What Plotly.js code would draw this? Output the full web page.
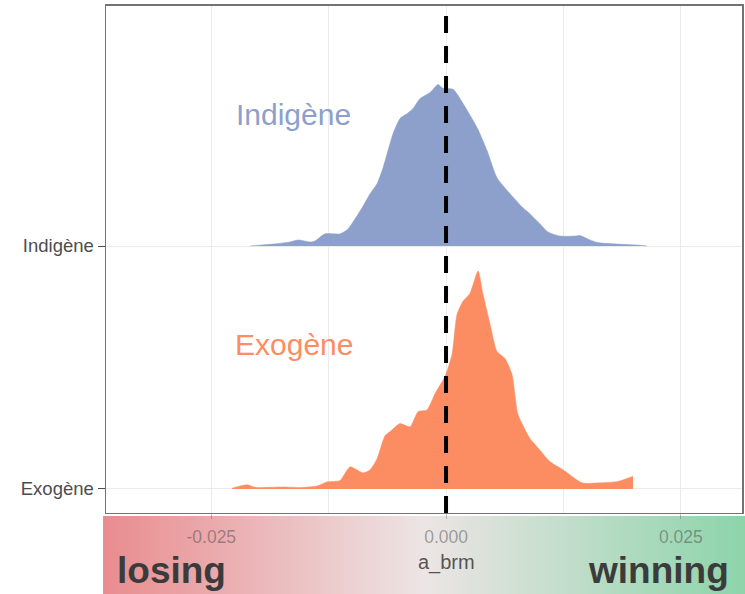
<!DOCTYPE html>
<html>
<head>
<meta charset="utf-8">
<script src="https://cdn.plot.ly/plotly-3.0.1.min.js"></script>
<style>html,body{margin:0;padding:0;background:#fff;}#chart{width:745px;height:594px;}</style>
</head>
<body>
<div id="chart"></div>
<script>
// Category positions on the ridge axis
const categories = ["Exogène", "Indigène"];
const categoryPos = [1, 2];

// Indigène density (x = a_brm, h = ridge height in category units)
const indigeneX = [-0.02087,-0.01842,-0.01661,-0.01576,-0.01448,-0.01395,-0.01289,-0.01129,-0.01044,-0.00969,
  -0.00895,-0.00809,-0.00735,-0.00671,-0.00618,-0.00564,-0.00490,-0.00415,-0.00351,-0.00277,
  -0.00170,-0.00085,-0.00032,0.00075,0.00181,0.00330,0.00437,0.00543,0.00682,0.00820,
  0.00895,0.01001,0.01086,0.01214,0.01374,0.01427,0.01534,0.01619,0.01821,0.02034,0.02141];
const indigeneH = [0,0.008,0.017,0.025,0.017,0.021,0.050,0.050,0.070,0.112,
  0.157,0.215,0.256,0.322,0.393,0.463,0.525,0.545,0.566,0.607,
  0.632,0.665,0.649,0.645,0.587,0.488,0.393,0.281,0.215,0.157,
  0.132,0.091,0.058,0.041,0.041,0.043,0.025,0.014,0.008,0.004,0];

// Exogène density
const exogeneX = [-0.02279,-0.02119,-0.02034,-0.01736,-0.01555,-0.01374,-0.01267,-0.01129,-0.01022,-0.00884,
  -0.00809,-0.00735,-0.00650,-0.00596,-0.00490,-0.00383,-0.00298,-0.00202,-0.00117,-0.00011,
  0.00064,0.00117,0.00181,0.00256,0.00341,0.00394,0.00469,0.00543,0.00628,0.00703,
  0.00767,0.00895,0.00969,0.01108,0.01246,0.01448,0.01640,0.01832,0.01991];
const exogeneH = [0.003,0.017,0.007,0.008,0.006,0.012,0.029,0.035,0.091,0.066,
  0.079,0.124,0.219,0.236,0.269,0.256,0.318,0.326,0.393,0.463,
  0.554,0.719,0.773,0.806,0.897,0.802,0.678,0.566,0.537,0.471,
  0.306,0.207,0.174,0.112,0.079,0.025,0.025,0.031,0.052];

// x-axis ticks
const xTickVals = [-0.025, 0, 0.025];
const xTickText = ["-0.025", "0.000", "0.025"];
const xTitle = "a_brm";
const refLine = 0;

// Background gradient levels (losing -> winning)
const gradientLevels = [0, 0.5, 1];

function ridge(xs, hs, base, color, name) {
  const baseline = {
    type: 'scatter', mode: 'lines', x: [xs[0], xs[xs.length - 1]], y: [base, base],
    line: {width: 0, color: color}, xaxis: 'x2', yaxis: 'y2', hoverinfo: 'skip', name: name + ' base'
  };
  const curve = {
    type: 'scatter', mode: 'lines', x: xs, y: hs.map(h => base + h), fill: 'tonexty',
    fillcolor: color, line: {color: color, width: 0.5, shape: 'spline', smoothing: 0.6},
    xaxis: 'x2', yaxis: 'y2', name: name, hoverinfo: 'skip'
  };
  return [baseline, curve];
}

const gradient = {
  type: 'heatmap', z: [gradientLevels, gradientLevels], xaxis: 'x', yaxis: 'y',
  zsmooth: 'best', showscale: false, hoverinfo: 'skip', zmin: 0, zmax: 1,
  colorscale: [[0, 'rgb(233,140,143)'], [0.5, 'rgb(237,229,229)'], [1, 'rgb(140,212,170)']]
};

const data = [gradient]
  .concat(ridge(indigeneX, indigeneH, categoryPos[1], '#8da0cb', categories[1]))
  .concat(ridge(exogeneX, exogeneH, categoryPos[0], '#fc8d62', categories[0]));

const grid = '#ebebeb';
const frame = 'rgb(115,115,115)';
const layout = {
  width: 745, height: 594,
  margin: {l: 0, r: 0, t: 0, b: 0},
  paper_bgcolor: '#ffffff', plot_bgcolor: 'rgba(0,0,0,0)',
  showlegend: false,
  font: {family: 'Liberation Sans, Arial, sans-serif'},
  xaxis: {domain: [0.1383, 1], anchor: 'y', range: [0, 2], visible: false, fixedrange: true},
  yaxis: {domain: [0, 0.1313], anchor: 'x', range: [0, 1], visible: false, fixedrange: true},
  xaxis2: {
    domain: [0.1423, 0.9960], anchor: 'y2', range: [-0.03621, 0.03152],
    tickmode: 'array', tickvals: xTickVals, ticktext: xTickText,
    ticks: 'outside', ticklen: 5, tickwidth: 1, tickcolor: 'rgba(77,77,77,0.35)',
    ticklabelstandoff: 3,
    tickfont: {size: 17.5, color: 'rgba(60,60,60,0.45)'},
    showgrid: true, gridcolor: grid, gridwidth: 1, zeroline: false,
    minor: {tickmode: 'linear', tick0: 0, dtick: 0.0125, showgrid: true, gridcolor: grid, gridwidth: 1, ticks: ''},
    showline: true, mirror: true, linecolor: frame, linewidth: 1.5
  },
  yaxis2: {
    domain: [0.1364, 0.9899], anchor: 'x2', range: [0.901, 2.988],
    tickmode: 'array', tickvals: categoryPos, ticktext: categories,
    ticks: 'outside', ticklen: 7, tickwidth: 1, tickcolor: '#4d4d4d',
    tickfont: {size: 18.5, color: '#4d4d4d'},
    showgrid: true, gridcolor: grid, gridwidth: 1, zeroline: false,
    showline: true, mirror: true, linecolor: frame, linewidth: 1.5
  },
  shapes: [{
    type: 'line', xref: 'x2', yref: 'y2 domain', x0: refLine, x1: refLine, y0: 0, y1: 1,
    line: {color: '#000000', width: 4, dash: '17px,13px'}, layer: 'above'
  }],
  annotations: [
    {text: xTitle, xref: 'x2', yref: 'paper', x: refLine, y: 0.0538, xanchor: 'center', yanchor: 'middle',
     showarrow: false, font: {size: 20, color: 'rgba(45,45,45,0.8)'}},
    {text: 'Indigène', xref: 'paper', yref: 'paper', x: 0.3933, y: 0.8064, xanchor: 'center', yanchor: 'middle',
     showarrow: false, font: {size: 30, color: '#8da0cb'}},
    {text: 'Exogène', xref: 'paper', yref: 'paper', x: 0.3953, y: 0.4192, xanchor: 'center', yanchor: 'middle',
     showarrow: false, font: {size: 30, color: '#fc8d62'}},
    {text: '<b>losing</b>', xref: 'paper', yref: 'paper', x: 0.155, y: 0.0404, xanchor: 'left', yanchor: 'middle',
     showarrow: false, font: {size: 37, color: '#3b3b3b'}},
    {text: '<b>winning</b>', xref: 'paper', yref: 'paper', x: 0.981, y: 0.0404, xanchor: 'right', yanchor: 'middle',
     showarrow: false, font: {size: 37, color: '#3b3b3b'}}
  ]
};

Plotly.newPlot('chart', data, layout, {staticPlot: true, displayModeBar: false});
</script>
</body>
</html>
